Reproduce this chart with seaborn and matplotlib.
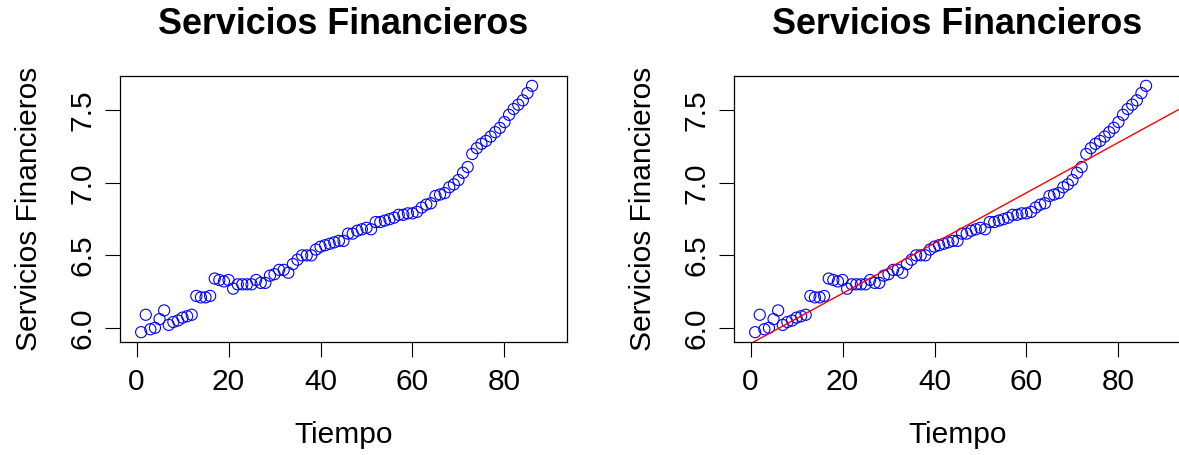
"""Servicios Financieros: serie en el tiempo y ajuste lineal."""

import matplotlib
matplotlib.use("Agg")
import matplotlib.pyplot as plt
import numpy as np
import pandas as pd
import seaborn as sns

TITULO = "Servicios Financieros"
X_LABEL = "Tiempo"
Y_LABEL = "Servicios Financieros"

tiempo = list(range(1, 87))
servicios = [
    5.97, 6.09, 5.99, 6.00, 6.06, 6.12, 6.02, 6.04, 6.05, 6.07,
    6.08, 6.09, 6.22, 6.21, 6.21, 6.22, 6.34, 6.33, 6.32, 6.33,
    6.27, 6.30, 6.30, 6.30, 6.30, 6.33, 6.31, 6.31, 6.36, 6.37,
    6.40, 6.40, 6.38, 6.44, 6.47, 6.50, 6.50, 6.50, 6.54, 6.56,
    6.57, 6.58, 6.59, 6.60, 6.60, 6.65, 6.65, 6.67, 6.68, 6.69,
    6.68, 6.73, 6.73, 6.74, 6.75, 6.76, 6.78, 6.78, 6.79, 6.79,
    6.80, 6.83, 6.85, 6.86, 6.91, 6.92, 6.93, 6.97, 6.99, 7.02,
    7.07, 7.11, 7.20, 7.24, 7.27, 7.29, 7.32, 7.35, 7.38, 7.42,
    7.47, 7.51, 7.54, 7.57, 7.62, 7.67,
]
x_ticks = [0, 20, 40, 60, 80]
y_ticks = [6.0, 6.5, 7.0, 7.5]

sns.set_style("ticks")
plt.rcParams["font.family"] = ["Liberation Sans", "DejaVu Sans"]
plt.rcParams["text.color"] = "black"
plt.rcParams["axes.labelcolor"] = "black"
plt.rcParams["xtick.color"] = "black"
plt.rcParams["ytick.color"] = "black"

df = pd.DataFrame({"tiempo": tiempo, "servicios": servicios})

fig = plt.figure(figsize=(11.79, 4.55), dpi=100)
ax1 = fig.add_axes([120 / 1179, 113 / 455, 447 / 1179, 266 / 455])
ax2 = fig.add_axes([734 / 1179, 113 / 455, 447 / 1179, 266 / 455])

# limites al estilo R (4% extra)
y_min, y_max = min(servicios), max(servicios)
y_pad = 0.04 * (y_max - y_min)

for ax in (ax1, ax2):
    sns.scatterplot(
        data=df, x="tiempo", y="servicios", ax=ax, marker="o", s=64,
        facecolor="none", edgecolor="blue", linewidth=0.8,
    )
    ax.set_xlim(-3.6, 93.6)
    ax.set_ylim(y_min - y_pad, y_max + y_pad)
    ax.set_xticks(x_ticks)
    ax.set_yticks(y_ticks)
    ax.set_xticklabels([str(t) for t in x_ticks])
    ax.set_yticklabels([f"{t:.1f}" for t in y_ticks], rotation=90, va="center")
    ax.tick_params(axis="both", labelsize=21.5, length=11, width=0.8,
                   color="black", labelcolor="black")
    ax.tick_params(axis="x", pad=8)
    ax.tick_params(axis="y", pad=6)
    for s in ax.spines.values():
        s.set_linewidth(0.9)
        s.set_color("black")
    ax.set_xlabel(X_LABEL, fontsize=21.5, labelpad=18, color="black")
    ax.set_ylabel(Y_LABEL, fontsize=21.5, labelpad=18, color="black")
    ax.set_title(TITULO, fontsize=25.8, fontweight="bold", pad=30, color="black")

# recta de regresion
pendiente, intercepto = np.polyfit(df["tiempo"], df["servicios"], 1)
ax2.axline((0, intercepto), slope=pendiente, color="red", linewidth=1.0)

fig.savefig("out.png", dpi=100)
